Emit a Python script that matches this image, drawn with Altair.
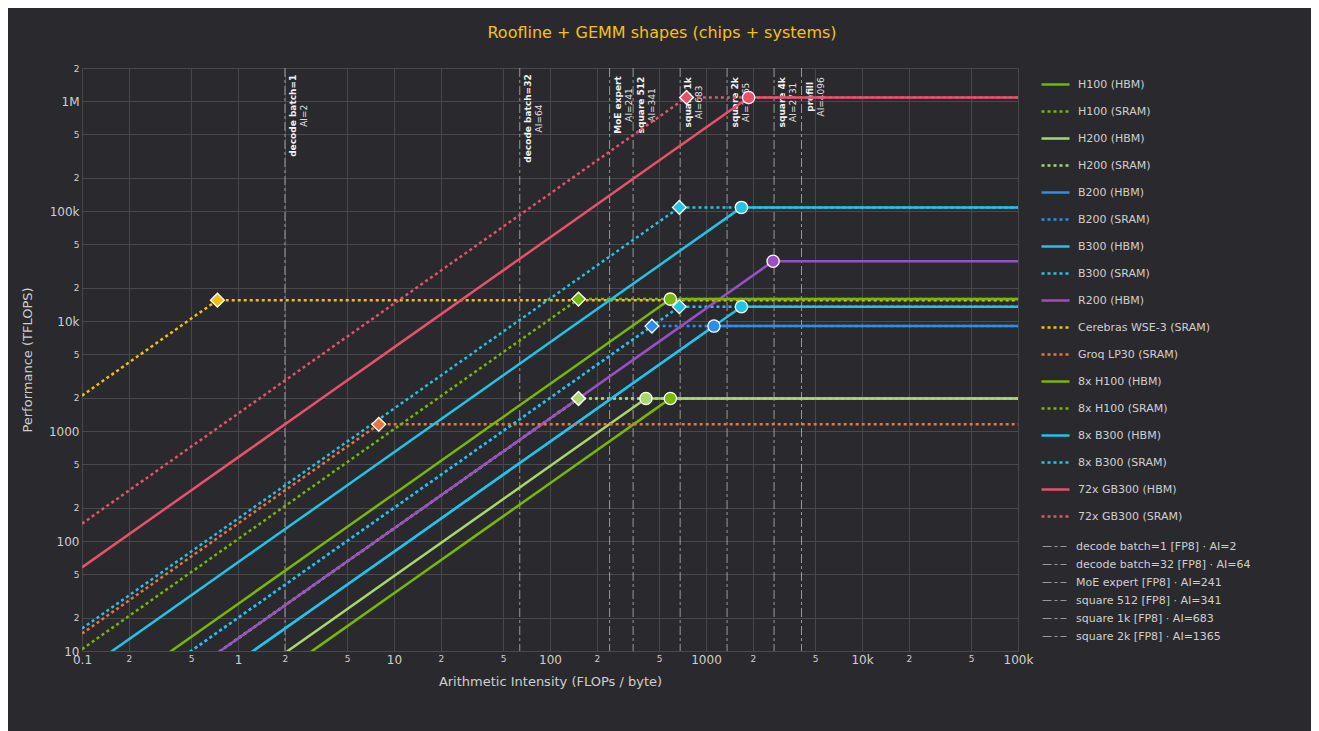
import altair as alt
import pandas as pd

# ---------------- data ----------------
series_names = [
    "H100 (HBM)", "H100 (SRAM)", "H200 (HBM)", "H200 (SRAM)",
    "B200 (HBM)", "B200 (SRAM)", "B300 (HBM)", "B300 (SRAM)",
    "R200 (HBM)", "Cerebras WSE-3 (SRAM)", "Groq LP30 (SRAM)",
    "8x H100 (HBM)", "8x H100 (SRAM)", "8x B300 (HBM)", "8x B300 (SRAM)",
    "72x GB300 (HBM)", "72x GB300 (SRAM)",
]
memory_kind = ["HBM", "SRAM", "HBM", "SRAM", "HBM", "SRAM", "HBM", "SRAM",
               "HBM", "SRAM", "SRAM", "HBM", "SRAM", "HBM", "SRAM", "HBM", "SRAM"]
peak_tflops = [1979, 1979, 1979, 1979, 9000, 9000, 13500, 13500,
               35000, 15500, 1150, 15832, 15832, 108000, 108000,
               1080000, 1080000]
bandwidth_tbs = [3.35, 13, 4.8, 13, 8, 20, 8, 20,
                 13, 21000, 144, 26.8, 104, 64, 160, 576, 1440]
series_colors = ["#76b900", "#76b900", "#a8d86a", "#a8d86a",
                 "#2b8def", "#2b8def", "#22c4e6", "#22c4e6",
                 "#9b4fc4", "#f2c010", "#ea7440",
                 "#76b900", "#76b900", "#22c4e6", "#22c4e6",
                 "#e8506c", "#e8506c"]

shape_names = ["decode batch=1", "decode batch=32", "MoE expert", "square 512",
               "square 1k", "square 2k", "square 4k", "prefill"]
shape_ai = [2, 64, 241, 341, 683, 1365, 2731, 4096]
shape_legend_visible = 6

x_ticks = [0.1, 0.2, 0.5, 1, 2, 5, 10, 20, 50, 100, 200, 500,
           1000, 2000, 5000, 10000, 20000, 50000, 100000]
y_ticks = [10, 20, 50, 100, 200, 500, 1000, 2000, 5000, 10000, 20000, 50000,
           100000, 200000, 500000, 1000000, 2000000]
ai_range = [0.1, 100000]
perf_range = [10, 2000000]

# ---------------- tables ----------------
line_rows, hbm_rows, sram_rows = [], [], []
for name, mem, pk, bw in zip(series_names, memory_kind, peak_tflops, bandwidth_tbs):
    ridge = pk / bw
    line_rows += [
        {"series": name, "pt": 0, "ai": ai_range[0], "perf": ai_range[0] * bw},
        {"series": name, "pt": 1, "ai": ridge, "perf": pk},
        {"series": name, "pt": 2, "ai": ai_range[1], "perf": pk},
    ]
    (hbm_rows if mem == "HBM" else sram_rows).append({"series": name, "ai": ridge, "perf": pk})
lines_df = pd.DataFrame(line_rows)
hbm_df = pd.DataFrame(hbm_rows)
sram_df = pd.DataFrame(sram_rows)

shape_labels = [f"{n} [FP8] · AI={a}" for n, a in zip(shape_names, shape_ai)]
shapes_df = pd.DataFrame({"name": shape_names, "ai": shape_ai, "label": shape_labels,
                          "ai_label": [f"AI={a}" for a in shape_ai]})

# ---------------- style ----------------
FONT = "DejaVu Sans"
BG = "#2a2a2e"
GRID = "#48494d"
TXT = "#cfcfcf"

LOGE = "floor(log(datum.value)/LN10 + 1e-6)"
MANT = f"round(datum.value/pow(10,{LOGE}))"
label_expr = (f"{MANT} != 1 ? toString({MANT}) : "
              "(datum.value >= 1e6 ? toString(round(datum.value/1e6)) + 'M' : "
              "(datum.value >= 1e4 ? toString(round(datum.value/1e3)) + 'k' : toString(datum.value)))")
label_size = {"condition": {"test": f"{MANT} == 1", "value": 12}, "value": 9}


def make_axis(vals, title, **kw):
    return alt.Axis(values=vals, labelExpr=label_expr, labelFontSize=label_size,
                    labelColor=TXT, labelFont=FONT, grid=True, gridColor=GRID,
                    gridWidth=1, domain=False, ticks=False, labelOverlap=False,
                    labelFlush=False, title=title, titleColor=TXT, titleFont=FONT,
                    titleFontSize=13, titleFontWeight="normal", **kw)


x_enc = alt.X("ai:Q", scale=alt.Scale(type="log", domain=ai_range, nice=False),
              axis=make_axis(x_ticks, "Arithmetic Intensity (FLOPs / byte)",
                             labelPadding=3, titlePadding=10))
y_enc = alt.Y("perf:Q", scale=alt.Scale(type="log", domain=perf_range, nice=False),
              axis=make_axis(y_ticks, "Performance (TFLOPS)", labelPadding=3,
                             titlePadding=14))

color_scale = alt.Scale(domain=series_names, range=series_colors)
dash_scale = alt.Scale(domain=series_names,
                       range=[[100, 0] if m == "HBM" else [3, 3] for m in memory_kind])
series_legend = alt.Legend(title=None, orient="none", legendX=958, legendY=1,
                           symbolType="stroke", symbolStrokeWidth=2.5, symbolSize=784,
                           symbolOpacity=1, rowPadding=6, labelFont=FONT, labelFontSize=11,
                           labelColor=TXT, labelOffset=7, labelLimit=300)

shape_opacity_scale = alt.Scale(domain=shape_labels, range=[0.7] * len(shape_labels))
shape_legend = alt.Legend(title=None, orient="none", legendX=960, legendY=466,
                          symbolType="stroke", symbolStrokeWidth=1, symbolSize=576,
                          symbolStrokeColor="#c8c8c8", symbolDash=[9, 3, 3, 3],
                          rowPadding=0, values=shape_labels[:shape_legend_visible],
                          labelFont=FONT, labelFontSize=11, labelColor=TXT,
                          labelOffset=9, labelLimit=300)

# ---------------- layers ----------------
rules = alt.Chart(shapes_df).mark_rule(color="#c8c8c8", strokeWidth=1,
                                       strokeDash=[9, 3, 3, 3]).encode(
    x=x_enc,
    opacity=alt.Opacity("label:N", scale=shape_opacity_scale, legend=shape_legend),
)

NAME_CW, AI_CW = 5.4, 5.0
label_base = alt.Chart(shapes_df).transform_calculate(
    ypix=f"10 + max(length(datum.name)*{NAME_CW}, length(datum.ai_label)*{AI_CW})/2"
)
name_text = label_base.mark_text(angle=270, align="center", baseline="top", dy=4,
                                 font=FONT, fontSize=9, fontWeight="bold",
                                 color="#f2f2f2").encode(
    x=x_enc, y=alt.Y("ypix:Q", scale=None, axis=None), text="name:N")
ai_text = label_base.mark_text(angle=270, align="center", baseline="top", dy=15,
                               font=FONT, fontSize=9, color="#e0e0e0").encode(
    x=x_enc, y=alt.Y("ypix:Q", scale=None, axis=None), text="ai_label:N")

lines = alt.Chart(lines_df).mark_line(strokeWidth=2.5, clip=True).encode(
    x=x_enc, y=y_enc,
    color=alt.Color("series:N", scale=color_scale, legend=series_legend),
    strokeDash=alt.StrokeDash("series:N", scale=dash_scale, legend=series_legend),
    order="pt:O",
)

fill_scale = alt.Scale(domain=series_names, range=series_colors)
circles = alt.Chart(hbm_df).mark_point(shape="circle", filled=True, size=150,
                                       stroke="#ffffff", strokeWidth=1.3, opacity=1).encode(
    x=x_enc, y=y_enc, fill=alt.Fill("series:N", scale=fill_scale, legend=None))
diamonds = alt.Chart(sram_df).mark_point(shape="diamond", filled=True, size=190,
                                         stroke="#ffffff", strokeWidth=1.3, opacity=1).encode(
    x=x_enc, y=y_enc, fill=alt.Fill("series:N", scale=fill_scale, legend=None))

chart = alt.layer(rules, name_text, ai_text, lines, circles, diamonds).properties(
    width=936, height=583,
    autosize=alt.AutoSizeParams(type="none"),
    padding={"left": 74, "top": 60, "right": 293, "bottom": 80},
    title=alt.Title("Roofline + GEMM shapes (chips + systems)", color="#f2c21b",
                    font=FONT, fontSize=16, fontWeight="normal", anchor="middle",
                    frame="group", dx=112, offset=23),
    background=BG,
).configure_view(stroke=None, fill=BG)

chart.save("out.html", embed_options={"renderer": "svg", "actions": False})
